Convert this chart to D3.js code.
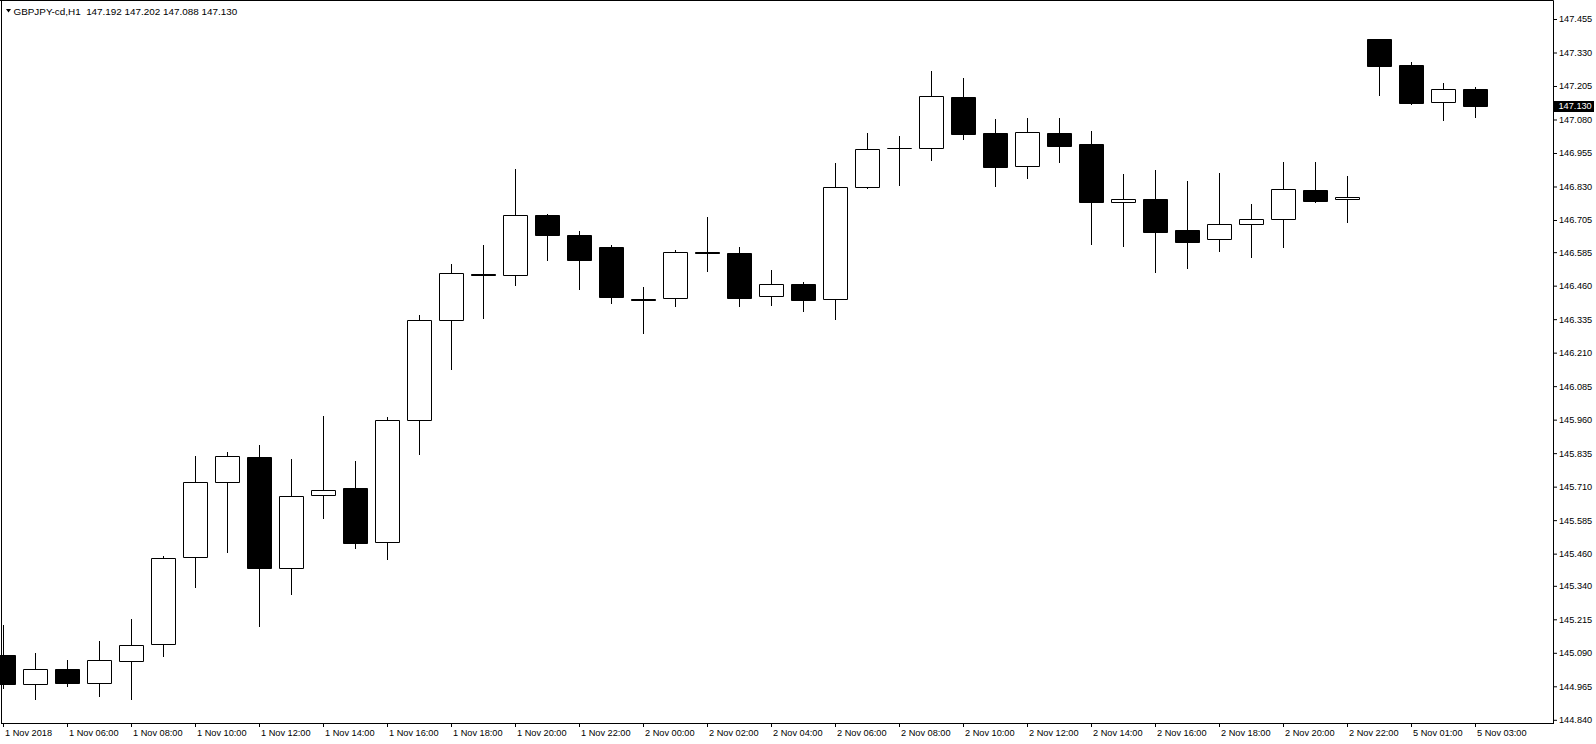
<!DOCTYPE html>
<html>
<head>
<meta charset="utf-8">
<script src="https://cdn.jsdelivr.net/npm/d3@7"></script>
<style>
  html, body { margin: 0; padding: 0; background: #fff; }
  svg { display: block; }
  text { font-family: "Liberation Sans", Arial, sans-serif; font-size: 9.2px; fill: #000; }
  text.title { font-size: 9.9px; }
</style>
</head>
<body>
<svg id="chart" width="1596" height="744"></svg>
<script>
// ---- data (GBPJPY-cd, H1) ----
const times = [
  "1 Nov 04:00","1 Nov 05:00","1 Nov 06:00","1 Nov 07:00","1 Nov 08:00","1 Nov 09:00",
  "1 Nov 10:00","1 Nov 11:00","1 Nov 12:00","1 Nov 13:00","1 Nov 14:00","1 Nov 15:00",
  "1 Nov 16:00","1 Nov 17:00","1 Nov 18:00","1 Nov 19:00","1 Nov 20:00","1 Nov 21:00",
  "1 Nov 22:00","1 Nov 23:00","2 Nov 00:00","2 Nov 01:00","2 Nov 02:00","2 Nov 03:00",
  "2 Nov 04:00","2 Nov 05:00","2 Nov 06:00","2 Nov 07:00","2 Nov 08:00","2 Nov 09:00",
  "2 Nov 10:00","2 Nov 11:00","2 Nov 12:00","2 Nov 13:00","2 Nov 14:00","2 Nov 15:00",
  "2 Nov 16:00","2 Nov 17:00","2 Nov 18:00","2 Nov 19:00","2 Nov 20:00","2 Nov 21:00",
  "2 Nov 22:00","5 Nov 00:00","5 Nov 01:00","5 Nov 02:00","5 Nov 03:00"
];
const open = [
  145.082,144.973,145.029,144.979,145.058,145.122,145.446,145.726,145.820,145.405,145.678,145.704,
  145.502,145.958,146.331,146.504,146.499,146.723,146.648,146.603,146.412,146.413,146.584,146.581,
  146.420,146.465,146.409,146.827,146.972,146.972,147.164,147.030,146.905,147.030,146.989,146.773,
  146.783,146.668,146.633,146.689,146.708,146.817,146.782,147.380,147.283,147.144,147.192
];
const high = [
  145.194,145.088,145.063,145.134,145.216,145.452,145.824,145.839,145.865,145.813,145.974,145.806,
  145.969,146.351,146.541,146.612,146.895,146.727,146.664,146.612,146.455,146.593,146.716,146.604,
  146.518,146.474,146.918,147.030,147.018,147.261,147.235,147.082,147.086,147.086,147.037,146.877,
  146.892,146.850,146.880,146.765,146.921,146.921,146.869,147.381,147.295,147.216,147.202
];
const low = [
  144.958,144.919,144.967,144.930,144.917,145.079,145.337,145.467,145.191,145.311,145.592,145.482,
  145.441,145.833,146.150,146.340,146.464,146.557,146.449,146.396,146.285,146.385,146.516,146.385,
  146.389,146.367,146.337,146.826,146.837,146.930,147.008,146.833,146.863,146.922,146.617,146.609,
  146.512,146.527,146.590,146.568,146.605,146.773,146.699,147.172,147.139,147.079,147.088
];
const close = [
  144.973,145.029,144.979,145.062,145.118,145.443,145.726,145.823,145.408,145.674,145.696,145.501,
  145.958,146.331,146.506,146.500,146.723,146.650,146.557,146.419,146.408,146.585,146.580,146.415,
  146.465,146.408,146.827,146.969,146.972,147.167,147.027,146.904,147.032,146.982,146.773,146.782,
  146.661,146.624,146.690,146.708,146.820,146.777,146.791,147.281,147.143,147.193,147.130
];
const priceTicks = [
  147.455,147.330,147.205,147.080,146.955,146.830,146.705,146.585,146.460,146.335,146.210,
  146.085,145.960,145.835,145.710,145.585,145.460,145.340,145.215,145.090,144.965,144.840
];
const timeTicks = [
  ["1 Nov 04:00","1 Nov 2018"],["1 Nov 06:00","1 Nov 06:00"],["1 Nov 08:00","1 Nov 08:00"],
  ["1 Nov 10:00","1 Nov 10:00"],["1 Nov 12:00","1 Nov 12:00"],["1 Nov 14:00","1 Nov 14:00"],
  ["1 Nov 16:00","1 Nov 16:00"],["1 Nov 18:00","1 Nov 18:00"],["1 Nov 20:00","1 Nov 20:00"],
  ["1 Nov 22:00","1 Nov 22:00"],["2 Nov 00:00","2 Nov 00:00"],["2 Nov 02:00","2 Nov 02:00"],
  ["2 Nov 04:00","2 Nov 04:00"],["2 Nov 06:00","2 Nov 06:00"],["2 Nov 08:00","2 Nov 08:00"],
  ["2 Nov 10:00","2 Nov 10:00"],["2 Nov 12:00","2 Nov 12:00"],["2 Nov 14:00","2 Nov 14:00"],
  ["2 Nov 16:00","2 Nov 16:00"],["2 Nov 18:00","2 Nov 18:00"],["2 Nov 20:00","2 Nov 20:00"],
  ["2 Nov 22:00","2 Nov 22:00"],["5 Nov 01:00","5 Nov 01:00"],["5 Nov 03:00","5 Nov 03:00"]
];
const symbol = "GBPJPY-cd,H1";
const lastBar = { o: 147.192, h: 147.202, l: 147.088, c: 147.130 };
const priceMin = 144.8281, priceMax = 147.5259;

// ---- layout ----
const svg = d3.select("#chart");
const axisX = 1553.5;   // right price axis
const axisY = 723;      // bottom time axis

const x = d3.scaleBand().domain(times).range([-12.5, 1491.5]).paddingInner(0.25).paddingOuter(0.125);
const y = d3.scaleLinear().domain([priceMin, priceMax]).range([axisY, 0]);
const cx = t => x(t) + x.bandwidth() / 2;
const py = v => Math.round(y(v)) + 0.5;

const bars = times.map((t, i) => ({ t, o: open[i], h: high[i], l: low[i], c: close[i] }));

const plot = svg.append("g");

// wicks
plot.selectAll("line.wick").data(bars).join("line")
  .attr("class", "wick")
  .attr("x1", d => cx(d.t)).attr("x2", d => cx(d.t))
  .attr("y1", d => py(d.h) - 0.5).attr("y2", d => py(d.l) + 0.5)
  .attr("stroke", "#000").attr("stroke-width", 1);

// bodies
plot.selectAll("path.body").data(bars).join("path")
  .attr("class", "body")
  .attr("d", d => {
    const x0 = cx(d.t) - 12, x1 = cx(d.t) + 12;
    const top = py(Math.max(d.o, d.c)), bot = py(Math.min(d.o, d.c));
    return `M${x0},${top}H${x1}V${bot}H${x0}Z`;
  })
  .attr("fill", d => d.c >= d.o ? "#fff" : "#000")
  .attr("stroke", "#000").attr("stroke-width", 1);

// frame: left and top
svg.append("line").attr("x1", 1.5).attr("x2", 1.5).attr("y1", 0).attr("y2", axisY + 0.5)
  .attr("stroke", "#000");
svg.append("line").attr("x1", 0).attr("x2", axisX).attr("y1", 0.5).attr("y2", 0.5)
  .attr("stroke", "#000");
// bottom axis line
svg.append("line").attr("x1", 1).attr("x2", axisX + 0.5).attr("y1", axisY + 0.5).attr("y2", axisY + 0.5)
  .attr("stroke", "#000");

// right price axis
const yAxis = svg.append("g").attr("transform", `translate(${axisX - 0.5},0)`)
  .call(d3.axisRight(y).tickValues(priceTicks).tickFormat(d3.format(".3f"))
    .tickSize(4).tickSizeOuter(0).tickPadding(2));
yAxis.select(".domain").attr("stroke", "#000");
yAxis.selectAll("text").attr("fill", "#000");
yAxis.attr("font-family", null).attr("font-size", null);

// bottom time axis
const labelMap = new Map(timeTicks);
const xAxis = svg.append("g").attr("transform", `translate(0,${axisY})`)
  .call(d3.axisBottom(x).tickValues(timeTicks.map(d => d[0])).tickFormat(d => labelMap.get(d))
    .tickSize(4).tickSizeOuter(0).tickPadding(2.5));
xAxis.select(".domain").remove();
xAxis.selectAll("text").attr("text-anchor", "start").attr("x", 1.5).attr("fill", "#000");
xAxis.attr("font-family", null).attr("font-size", null);

// current price marker
const cy = y(lastBar.c);
svg.append("rect").attr("x", axisX + 0.5).attr("y", Math.round(cy) - 5).attr("width", 40).attr("height", 11)
  .attr("fill", "#000");
svg.append("text").attr("x", axisX + 5).attr("y", cy).attr("dy", "0.34em")
  .style("fill", "#fff").text(d3.format(".3f")(lastBar.c));

// title
svg.append("path").attr("d", "M6,9L11,9L8.5,12.5Z").attr("fill", "#000");
svg.append("text").attr("class", "title").attr("x", 13.5).attr("y", 14.5)
  .style("white-space", "pre")
  .text(`${symbol}  ${[lastBar.o, lastBar.h, lastBar.l, lastBar.c].map(d3.format(".3f")).join(" ")}`);
</script>
</body>
</html>
